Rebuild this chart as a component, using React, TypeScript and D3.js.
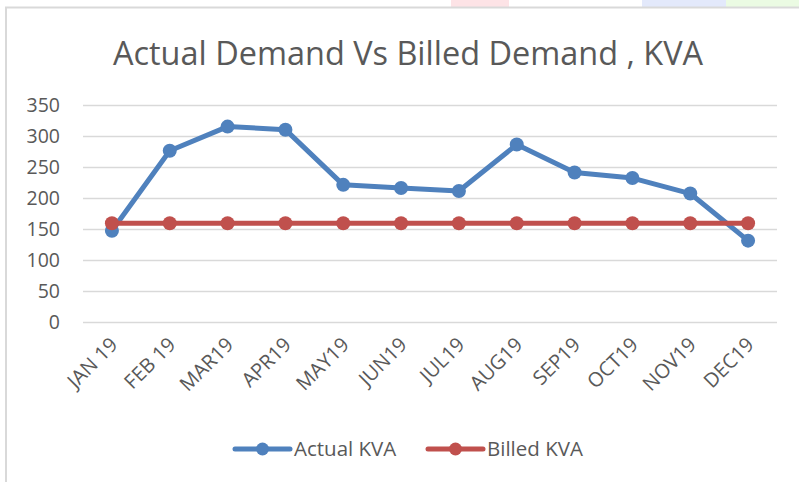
import React from "react";
import * as d3 from "d3";

const months = ["JAN 19", "FEB 19", "MAR19", "APR19", "MAY19", "JUN19", "JUL19", "AUG19", "SEP19", "OCT19", "NOV19", "DEC19"];
const actualKva = [148, 277, 316, 311, 222, 217, 212, 287, 242, 233, 208, 132];
const billedKva = [160, 160, 160, 160, 160, 160, 160, 160, 160, 160, 160, 160];
const yTicks = [0, 50, 100, 150, 200, 250, 300, 350];

const width = 799;
const height = 482;
const font = "'Open Sans', 'DejaVu Sans', sans-serif";
const textColor = "#595959";

const App = () => {
  const svgRef = React.useRef<SVGSVGElement>(null);

  React.useEffect(() => {
    const svg = d3.select(svgRef.current);
    svg.selectAll("*").remove();

    // faint strips at the top edge of the screenshot
    svg.append("rect").attr("x", 451).attr("y", 0).attr("width", 58).attr("height", 7).attr("fill", "#fde3e6");
    svg.append("rect").attr("x", 642).attr("y", 0).attr("width", 84).attr("height", 7).attr("fill", "#e3e9fb");
    svg.append("rect").attr("x", 726).attr("y", 0).attr("width", 73).attr("height", 7).attr("fill", "#ebfbe3");

    // chart frame
    svg.append("rect")
      .attr("x", 6).attr("y", 7.5)
      .attr("width", 820).attr("height", 500)
      .attr("fill", "#fff")
      .attr("stroke", "#d9d9d9")
      .attr("stroke-width", 2);

    const x = d3.scaleBand().domain(months).range([83, 777]);
    const y = d3.scaleLinear().domain([0, 350]).range([322.5, 105.5]);
    const cx = (m: string) => (x(m) as number) + x.bandwidth() / 2;

    svg.append("text")
      .attr("x", 408).attr("y", 65)
      .attr("text-anchor", "middle")
      .attr("font-family", font)
      .attr("font-size", 33)
      .attr("fill", textColor)
      .attr("textLength", 590)
      .attr("lengthAdjust", "spacingAndGlyphs")
      .text("Actual Demand Vs Billed Demand , KVA");

    // gridlines
    svg.append("g")
      .selectAll("line")
      .data(yTicks)
      .join("line")
        .attr("x1", 83).attr("x2", 777)
        .attr("y1", d => y(d)).attr("y2", d => y(d))
        .attr("stroke", "#d9d9d9")
        .attr("stroke-width", 1.5);

    // y labels
    svg.append("g")
      .selectAll("text")
      .data(yTicks)
      .join("text")
        .attr("x", 60)
        .attr("y", d => y(d))
        .attr("dy", "0.35em")
        .attr("text-anchor", "end")
        .attr("font-family", font)
        .attr("font-size", 19.5)
        .attr("fill", textColor)
        .text(d => d);

    // x labels
    svg.append("g")
      .selectAll("text")
      .data(months)
      .join("text")
        .attr("transform", d => `translate(${cx(d) + 7},${346}) rotate(-45)`)
        .attr("text-anchor", "end")
        .attr("font-family", font)
        .attr("font-size", 20)
        .attr("fill", textColor)
        .text(d => d);

    const series = [
      { name: "Actual KVA", values: actualKva, color: "#4f81bd" },
      { name: "Billed KVA", values: billedKva, color: "#c0504d" },
    ];

    const line = d3.line<number>()
      .x((d, i) => cx(months[i]))
      .y(d => y(d));

    series.forEach(s => {
      const g = svg.append("g");
      g.append("path")
        .attr("d", line(s.values))
        .attr("fill", "none")
        .attr("stroke", s.color)
        .attr("stroke-width", 5)
        .attr("stroke-linejoin", "round")
        .attr("stroke-linecap", "round");
      g.selectAll("circle")
        .data(s.values)
        .join("circle")
          .attr("cx", (d, i) => cx(months[i]))
          .attr("cy", d => y(d))
          .attr("r", 7)
          .attr("fill", s.color);
    });

    // legend
    const legendX = [235, 428];
    series.forEach((s, i) => {
      const g = svg.append("g").attr("transform", `translate(${legendX[i]},449)`);
      g.append("line")
        .attr("x1", 0).attr("x2", 55)
        .attr("stroke", s.color)
        .attr("stroke-width", 5)
        .attr("stroke-linecap", "round");
      g.append("circle").attr("cx", 27.5).attr("r", 6.5).attr("fill", s.color);
      g.append("text")
        .attr("x", 59).attr("y", 0)
        .attr("dy", "0.35em")
        .attr("font-family", font)
        .attr("font-size", 20.5)
        .attr("fill", textColor)
        .text(s.name);
    });
  }, []);

  return (
    <svg
      ref={svgRef}
      width={width}
      height={height}
      style={{ position: "absolute", left: 0, top: 0, display: "block" }}
    />
  );
};

export default App;
